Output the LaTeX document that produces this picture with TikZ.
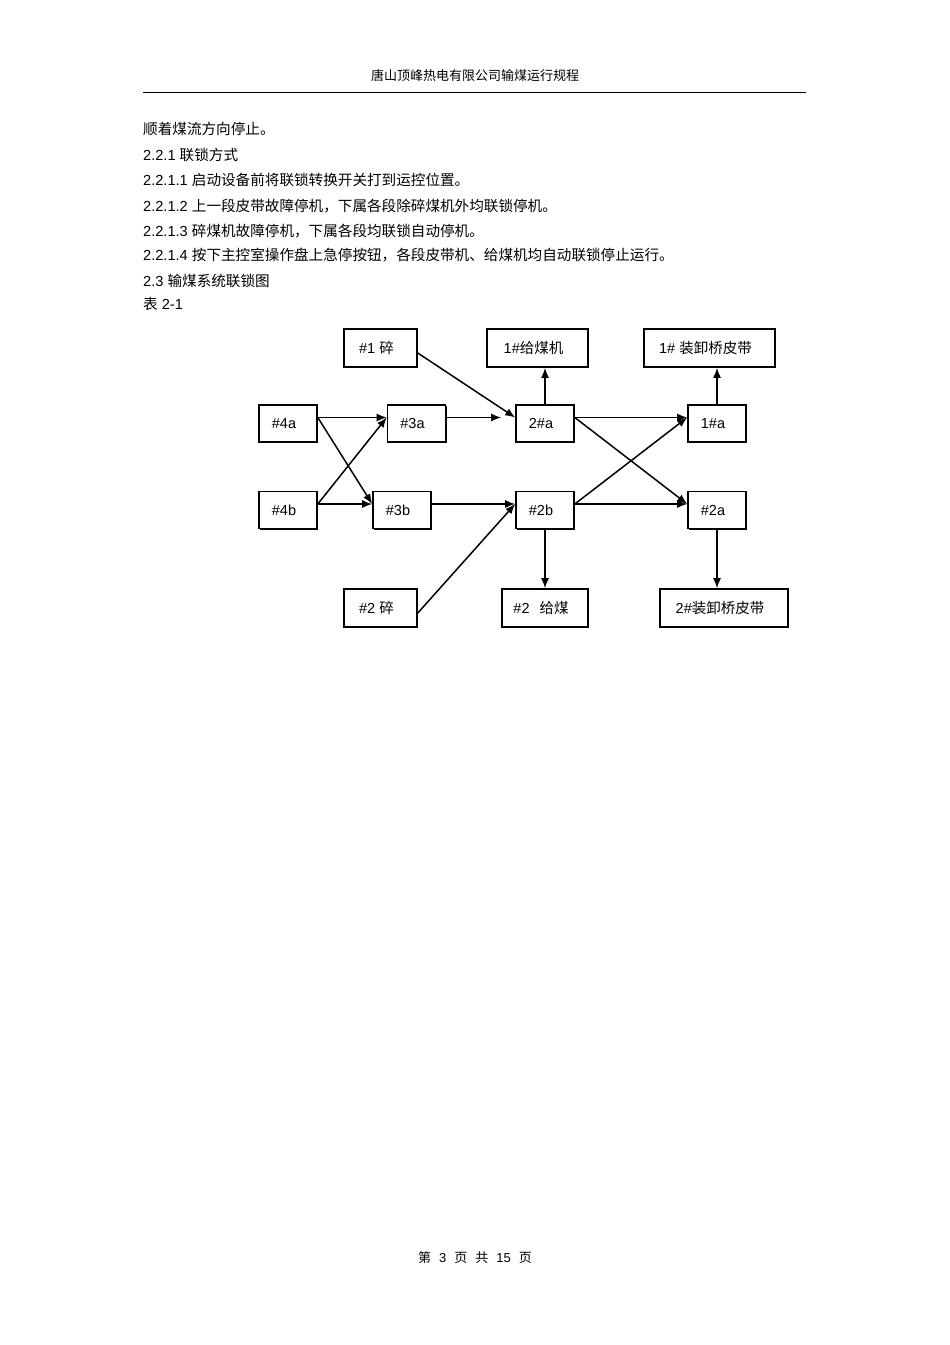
\documentclass[tikz,border=0pt]{standalone}
\usepackage{fontspec}
\setmainfont{Liberation Sans}
\newfontfamily\cjk{Noto Sans CJK SC}
\usetikzlibrary{arrows.meta,shadows}

\tikzset{
  unit/.style={draw=black, line width=1.6pt, fill=white, inner sep=0pt,
    font=\fontsize{14.5}{17}\selectfont,
    drop shadow={shadow xshift=1.3pt, shadow yshift=-1.3pt, fill=black, opacity=1},
    execute at end node={\kern8pt}},
  flow/.style={->, line width=1.5pt},
  body/.style={anchor=base west, inner sep=0pt, font=\fontsize{14.6}{17}\selectfont},
}

\begin{document}
\begin{tikzpicture}
    [x=1pt, y=-1pt, >={Latex[length=10pt,width=8pt]}]

    \useasboundingbox (0,0) rectangle (950,1345);

    % page head and text
    \node[anchor=base, inner sep=0pt, font=\fontsize{13}{15}\selectfont] (head) at (475,80) {\cjk 唐山顶峰热电有限公司输煤运行规程};
    \draw[line width=1pt] (143,92) -- (806,92);

    \node[body] (line-1) at (143,134) {\cjk 顺着煤流方向停止。};
    \node[body] (line-2) at (143,160) {2.2.1 \cjk 联锁方式};
    \node[body] (line-3) at (143,185) {2.2.1.1 \cjk 启动设备前将联锁转换开关打到运控位置。};
    \node[body] (line-4) at (143,211) {2.2.1.2 \cjk 上一段皮带故障停机，下属各段除碎煤机外均联锁停机。};
    \node[body] (line-5) at (143,236) {2.2.1.3 \cjk 碎煤机故障停机，下属各段均联锁自动停机。};
    \node[body] (line-6) at (143,260) {2.2.1.4 \cjk 按下主控室操作盘上急停按钮，各段皮带机、给煤机均自动联锁停止运行。};
    \node[body] (line-7) at (143,286) {2.3 \cjk 输煤系统联锁图};
    \node[body] (line-8) at (143,309) {{\cjk 表} 2-1};

    % belts
    \foreach \n/\x/\t in {4/288/\#4a, 3/416.5/\#3a, 2/545/2\#a, 1/717/1\#a}
    \node[unit, minimum width=58, minimum height=37] (a-\n) at (\x, 423.5) {\t};

    \foreach \n/\x/\t in {4/288/\#4b, 3/402/\#3b, 2/545/\#2b, 1/717/\#2a}
    \node[unit, minimum width=58, minimum height=37] (b-\n) at (\x, 510) {\t};

    % crushers, feeders, bridges
    \node[unit, minimum width=73, minimum height=38] (crush-1) at (380.5,348) {\#1 {\cjk 碎}};
    \node[unit, minimum width=101, minimum height=38] (feeder-1) at (537.5,348) {1\#{\cjk 给煤机}};
    \node[unit, minimum width=131, minimum height=38] (bridge-1) at (709.5,348) {1\# {\cjk 装卸桥皮带}};
    \node[unit, minimum width=73, minimum height=38] (crush-2) at (380.5,608) {\#2 {\cjk 碎}};
    \node[unit, minimum width=86, minimum height=38] (feeder-2) at (545,608) {\#2\hspace{10pt}{\cjk 给煤}};
    \node[unit, minimum width=128, minimum height=38] (bridge-2) at (724,608) {2\#{\cjk 装卸桥皮带}};

    \draw[flow] ([yshift=6pt]a-4.east) -- ([yshift=6pt]a-3.west);
    \draw[flow] ([yshift=6pt]a-4.east) -- ([yshift=6pt]b-3.west);
    \draw[flow] ([yshift=6pt]b-4.east) -- ([yshift=6pt]a-3.west);
    \draw[flow] ([yshift=6pt]b-4.east) -- ([yshift=6pt]b-3.west);
    \draw[flow, shorten >=14pt] ([yshift=6pt]a-3.east) -- ([yshift=6pt]a-2.west);
    \draw[flow] ([yshift=-5pt]crush-1.east) -- ([yshift=6pt]a-2.west);
    \draw[flow] ([yshift=6pt]b-3.east) -- ([yshift=6pt]b-2.west);
    \draw[flow] ([yshift=-5pt]crush-2.east) -- ([yshift=6pt]b-2.west);

    \draw[flow] (a-2.north) -- (a-2.north |- feeder-1.south);
    \draw[flow] ([yshift=6pt]a-2.east) -- ([yshift=6pt]a-1.west);
    \draw[flow] ([yshift=6pt]a-2.east) -- ([yshift=6pt]b-1.west);
    \draw[flow] ([yshift=6pt]b-2.east) -- ([yshift=6pt]a-1.west);
    \draw[flow] ([yshift=6pt]b-2.east) -- ([yshift=6pt]b-1.west);
    \draw[flow] (b-2.south) -- (b-2.south |- feeder-2.north);

    \draw[flow] (a-1.north) -- (a-1.north |- bridge-1.south);
    \draw[flow] (b-1.south) -- (b-1.south |- bridge-2.north);

    % page foot
    \node[anchor=base, inner sep=0pt, font=\fontsize{13}{15}\selectfont] (foot) at (475,1262) {{\cjk 第}\hspace{8pt}3\hspace{8pt}{\cjk 页}\hspace{8pt}{\cjk 共}\hspace{8pt}15\hspace{8pt}{\cjk 页}};
\end{tikzpicture}
\end{document}
